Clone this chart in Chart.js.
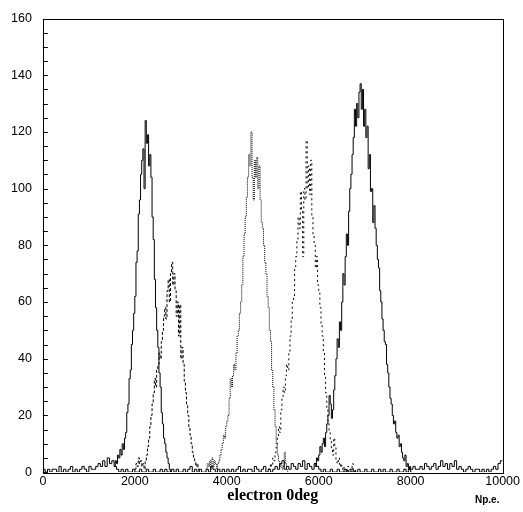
<!DOCTYPE html>
<html>
<head>
<meta charset="utf-8">
<script src="https://cdn.jsdelivr.net/npm/chart.js@4.4.1/dist/chart.umd.min.js"></script>
<style>
  html, body { margin: 0; padding: 0; background: #fff; }
  #wrap { width: 523px; height: 512px; }
</style>
</head>
<body>
<div id="wrap"><canvas id="histChart"></canvas></div>
<script>
// tick labels
const xTicks = [0, 2000, 4000, 6000, 8000, 10000];
const yTicks = [0, 20, 40, 60, 80, 100, 120, 140, 160];

// histogram bins: lower edge of first bin, bin width, counts
const binWidth = 25;

const solidAStart = 1550;
const solidACounts = [2, 4, 3, 6, 5, 8, 6, 10, 8, 12, 14, 21, 24, 33, 36, 45, 50, 56, 62, 74,
  78, 91, 96, 105, 110, 114, 100, 124, 116, 119, 108, 112, 104, 90, 82, 68, 58, 50, 44, 35,
  30, 21, 17, 12, 10, 7, 5, 3, 1, 0];

const dashBStart = 2000;
const dashBCounts = [1, 3, 2, 5, 3, 4, 2, 3, 1, 4, 6, 9, 12, 16, 20, 24, 28, 33, 30, 36,
  38, 42, 40, 46, 50, 55, 58, 54, 64, 68, 60, 70, 74, 66, 70, 64, 55, 60, 48, 59,
  40, 44, 38, 32, 28, 24, 20, 16, 13, 10, 7, 5, 4, 2, 3, 1, 0];

const dotCStart = 3550;
const dotCCounts = [1, 3, 2, 4, 1, 5, 2, 4, 3, 1, 3, 4, 6, 8, 10, 13, 12, 16, 18, 20,
  26, 33, 30, 34, 38, 36, 42, 48, 50, 56, 60, 66, 76, 84, 90, 97, 104, 112, 108, 120,
  104, 96, 110, 104, 111, 100, 108, 96, 88, 86, 80, 74, 70, 62, 58, 50, 46, 36, 30, 22,
  16, 10, 6, 4, 2, 3, 1, 2, 7, 3, 1, 0];

const dashDStart = 4900;
const dashDCounts = [1, 2, 3, 2, 5, 4, 7, 10, 12, 16, 14, 22, 26, 30, 28, 34, 38, 36, 42, 48,
  54, 60, 62, 72, 76, 82, 90, 86, 99, 92, 76, 100, 96, 117, 100, 108, 98, 110, 90, 84,
  80, 72, 76, 66, 64, 58, 52, 48, 42, 34, 28, 22, 18, 14, 11, 8, 6, 12, 9, 4,
  3, 5, 2, 3, 1, 2, 0, 1, 0, 2, 0, 1, 0, 3, 0, 1, 0];

const solidEStart = 5900;
const solidECounts = [3, 2, 5, 4, 6, 9, 7, 10, 12, 9, 14, 17, 20, 27, 24, 19, 22, 29, 34, 40,
  47, 44, 53, 50, 60, 70, 66, 76, 84, 80, 92, 100, 105, 112, 118, 128, 122, 130, 125, 134,
  137, 128, 135, 122, 128, 118, 122, 107, 112, 99, 100, 88, 94, 86, 80, 75, 72, 64, 60, 54,
  50, 46, 45, 38, 35, 30, 26, 24, 20, 17, 18, 14, 12, 13, 9, 10, 7, 5, 4, 6,
  2, 3, 1, 2, 0];

// low-level background counts, coarser bins
const noiseWidth = 50;
const noiseCounts = [1, 0, 1, 0, 1, 1, 0, 2, 0, 1, 0, 1, 2, 0, 1, 0, 1, 2, 1, 0, 2, 1, 1, 2,
  3, 2, 4, 2, 5, 3, 4, 2,
  1, 0, 1, 0, 1, 0, 0, 1, 0, 0, 1, 0, 0, 1, 0, 0, 1, 0, 0, 1, 0, 1, 0, 0,
  1, 0, 1, 0, 0, 1, 0, 1, 2, 0, 1, 0, 1, 0, 0, 1, 0, 2, 1, 0, 1, 0, 1, 0,
  1, 0, 1, 0, 1, 2, 0, 1, 0, 1, 1, 0, 2, 1, 0, 1, 2, 0, 1, 0, 1, 2, 1, 3,
  4, 1, 2, 1, 3, 2, 1, 3, 2, 4, 1, 3, 2, 1, 3, 2,
  1, 0, 1, 0, 0, 1, 0, 0, 1, 0, 0, 1, 0, 0, 1, 0, 0, 1, 0, 0,
  1, 0, 0, 1, 0, 0, 1, 0, 1, 0, 0, 1, 0, 0, 1, 0, 0, 1, 0, 1,
  1, 2, 1, 1, 2, 1, 3, 2, 1, 2, 3, 1, 2, 4, 2, 3, 1, 3, 2, 4,
  1, 2, 1, 0, 1, 2, 1, 0, 1, 1, 0, 1, 0, 1, 0, 1, 2, 1, 3, 4];

function toSteps(start, width, counts) {
  const pts = counts.map((c, i) => ({ x: start + i * width, y: c }));
  pts.push({ x: start + counts.length * width, y: counts[counts.length - 1] });
  return pts;
}

function histSet(label, points, dash) {
  return {
    label: label,
    data: points,
    stepped: true,
    borderColor: '#000',
    borderWidth: 1,
    borderDash: dash,
    pointRadius: 0,
    fill: false
  };
}

// frame, inward y ticks and unit label
const framePlugin = {
  id: 'frame',
  afterDraw(chart) {
    const { ctx, chartArea: a, scales } = chart;
    ctx.save();
    ctx.strokeStyle = '#000';
    ctx.lineWidth = 1;
    ctx.strokeRect(Math.round(a.left) + 0.5, Math.round(a.top) + 0.5,
      Math.round(a.right - a.left), Math.round(a.bottom - a.top));
    ctx.beginPath();
    for (let v = 0; v <= 160; v += 5) {
      const y = Math.round(scales.y.getPixelForValue(v)) + 0.5;
      ctx.moveTo(a.left, y);
      ctx.lineTo(a.left + 5, y);
    }
    ctx.stroke();
    ctx.fillStyle = '#000';
    ctx.font = 'bold 10px "Liberation Sans", Arial, sans-serif';
    ctx.textAlign = 'left';
    ctx.textBaseline = 'alphabetic';
    ctx.fillText('Np.e.', 475, 503);
    ctx.restore();
  }
};

new Chart(document.getElementById('histChart'), {
  type: 'line',
  data: {
    datasets: [
      histSet('background', toSteps(0, noiseWidth, noiseCounts), []),
      histSet('solid 1', toSteps(solidAStart, binWidth, solidACounts), []),
      histSet('dashed 1', toSteps(dashBStart, binWidth, dashBCounts), [3, 2]),
      histSet('dotted', toSteps(dotCStart, binWidth, dotCCounts), [1, 1]),
      histSet('dashed 2', toSteps(dashDStart, binWidth, dashDCounts), [2, 3]),
      histSet('solid 2', toSteps(solidEStart, binWidth, solidECounts), [])
    ]
  },
  options: {
    responsive: true,
    maintainAspectRatio: false,
    animation: false,
    layout: { padding: { left: 0, right: 19, top: 4, bottom: 9 } },
    plugins: {
      legend: { display: false },
      tooltip: { enabled: false }
    },
    scales: {
      x: {
        type: 'linear',
        min: 0,
        max: 10000,
        afterBuildTicks: (s) => { s.ticks = xTicks.map(v => ({ value: v })); },
        grid: { display: false, drawTicks: false },
        border: { display: false },
        ticks: {
          color: '#000',
          padding: 3,
          maxRotation: 0,
          callback: (v) => String(v),
          font: { family: '"Liberation Sans", Arial, sans-serif', size: 12.5, lineHeight: 1 }
        },
        title: {
          display: true,
          text: 'electron 0deg',
          color: '#000',
          padding: { top: -2, bottom: 0 },
          font: { family: '"Liberation Serif", "Times New Roman", serif', size: 16, weight: 'bold', lineHeight: 0.9 }
        }
      },
      y: {
        min: 0,
        max: 160,
        afterBuildTicks: (s) => { s.ticks = yTicks.map(v => ({ value: v })); },
        grid: { display: false, drawTicks: false },
        border: { display: false },
        ticks: {
          color: '#000',
          padding: 11,
          font: { family: '"Liberation Sans", Arial, sans-serif', size: 12.5 }
        }
      }
    }
  },
  plugins: [framePlugin]
});
</script>
</body>
</html>
